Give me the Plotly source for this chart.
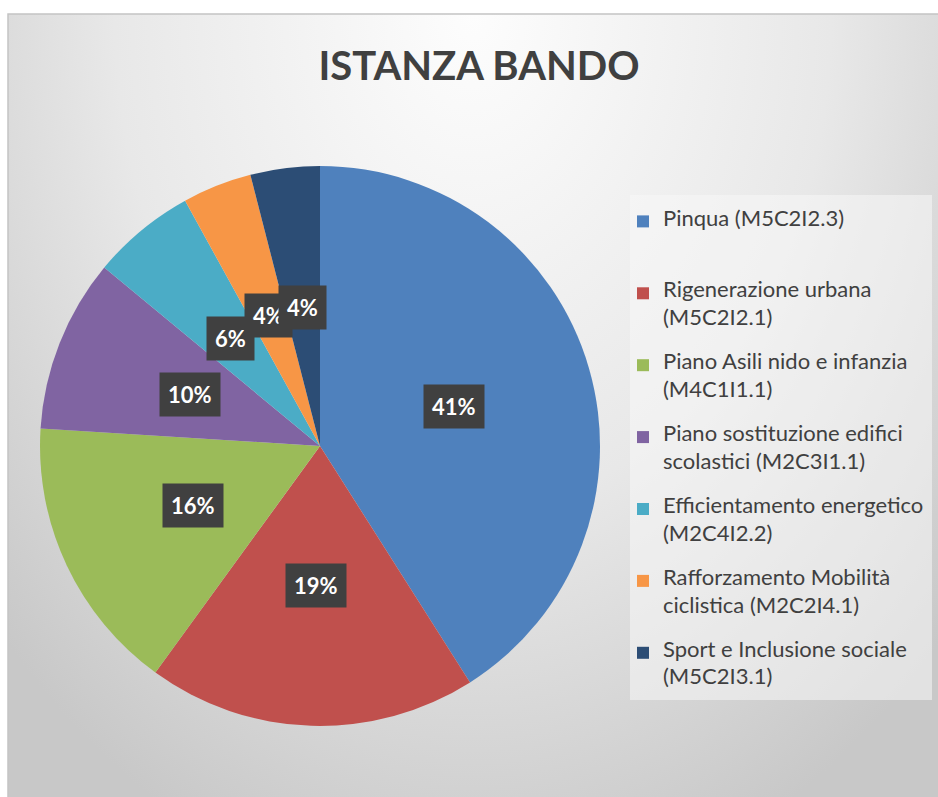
import math
import plotly.graph_objects as go

# ---- data ----
label_line1 = [
    "Pinqua (M5C2I2.3)",
    "Rigenerazione urbana",
    "Piano Asili nido e infanzia",
    "Piano sostituzione edifici",
    "Efficientamento energetico",
    "Rafforzamento Mobilità",
    "Sport e Inclusione sociale",
]
label_line2 = [
    "",
    "(M5C2I2.1)",
    "(M4C1I1.1)",
    "scolastici (M2C3I1.1)",
    "(M2C4I2.2)",
    "ciclistica (M2C2I4.1)",
    "(M5C2I3.1)",
]
values = [41, 19, 16, 10, 6, 4, 4]
colors = ["#4F81BD", "#C0504D", "#9BBB59", "#8064A2", "#4BACC6", "#F79646", "#2C4D75"]
title_text = "ISTANZA BANDO"

W, H = 938, 797
FONT = "Lato"
LEG_GLYPH = 22      # visible legend text size
LEG_BASE = 10.6     # base size -> line pitch used for spacing

# pie geometry (pixels)
cx, cy, R = 320, 446, 280
dom_x = [(cx - R) / W, (cx + R) / W]
dom_y = [(H - cy - R) / H, (H - cy + R) / H]

NB = "\u00a0"
def span(t):
    return f"<span style='font-size:{LEG_GLYPH}px'>{t if t else NB}</span>"

legend_labels = ["<br>".join([span(a), NB, span(b), NB, NB])
                 for a, b in zip(label_line1, label_line2)]

fig = go.Figure()

# background gradient (chart area)
fig.add_trace(go.Scatter(
    x=[-0.2, 1.2, 1.2, -0.2, -0.2], y=[-0.15, -0.15, 2.15, 2.15, -0.15],
    mode="lines", line=dict(width=0), fill="toself",
    fillgradient=dict(type="radial", colorscale=[[0, "#fdfdfd"], [0.55, "#e8e8e8"], [1, "#c8c8c8"]]),
    hoverinfo="skip", showlegend=False,
))

fig.add_trace(go.Pie(
    labels=legend_labels, values=values, sort=False, direction="clockwise",
    rotation=0, marker=dict(colors=colors, line=dict(width=0)),
    textinfo="none", hoverinfo="percent",
    domain=dict(x=dom_x, y=dom_y),
))

# percentage labels in dark boxes, positioned at slice mid-angles
total = sum(values)
annotations = []
cum = 0
for v in values:
    mid = (cum + v / 2) / total * 2 * math.pi
    cum += v
    d = 0.5 * R
    px = cx + d * math.sin(mid)
    py = cy - d * math.cos(mid)
    annotations.append(dict(
        text=f"<b>{round(v / total * 100)}%</b>", x=px / W, y=(H - py) / H,
        xref="paper", yref="paper", xanchor="center", yanchor="middle",
        showarrow=False, borderpad=8,
        bgcolor="#404040", font=dict(family=FONT, size=22, color="white")))

fig.update_layout(
    width=W, height=H, margin=dict(l=0, r=0, t=0, b=0),
    paper_bgcolor="white", plot_bgcolor="rgba(0,0,0,0)",
    xaxis=dict(domain=[8 / W, 1], range=[0, 1], visible=False, fixedrange=True),
    yaxis=dict(domain=[0, (H - 14) / H], range=[0, 1], visible=False, fixedrange=True),
    title=dict(text=f"<b>{title_text}</b>", x=479 / W, xanchor="center",
               y=(H - 66) / H, yanchor="middle",
               font=dict(family=FONT, size=40, color="#404040")),
    legend=dict(x=623 / W, xanchor="left", y=(H - 208) / H, yanchor="top",
                bgcolor="rgba(0,0,0,0)", valign="top",
                font=dict(family=FONT, size=LEG_BASE, color="#404040"),
                traceorder="normal"),
    annotations=annotations,
    shapes=[
        # legend panel
        dict(type="rect", xref="paper", yref="paper", layer="above",
             x0=630 / W, x1=932 / W, y0=(H - 700) / H, y1=(H - 195) / H,
             line=dict(width=0), fillcolor="rgba(248,248,248,0.55)"),
        # chart area border
        dict(type="rect", xref="paper", yref="paper",
             x0=8 / W, x1=1.01, y0=-0.01, y1=(H - 14) / H,
             line=dict(color="#c4c4c4", width=1.5), fillcolor="rgba(0,0,0,0)"),
    ],
)

fig.write_html("out.html", config={"displayModeBar": False},
               post_script="document.body.style.margin='0';")
